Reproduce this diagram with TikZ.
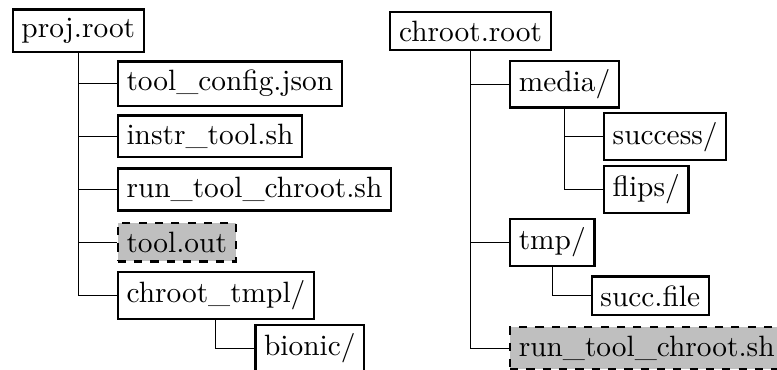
\documentclass[tikz,border=0pt]{standalone}
\begin{document}
\begin{tikzpicture}[
  x=0.3676pt, y=-0.3676pt,
  box/.style={draw, thick, fill=white, inner sep=3.2pt,
    font=\fontsize{10.8pt}{13pt}\selectfont},
  outbox/.style={box, dashed, fill=gray!50},
  kid/.style={anchor=west, xshift=14.12pt},
  link/.style={draw, line width=0.4pt}
]
\clip (0,0) rectangle (777,369);

% left tree
\node[box, anchor=west] (proj) at (11.7,30.8) {proj.root};
\node[box, kid] (cfg)   at (proj.south |- 0,83.5)  {tool\_config.json};
\node[box, kid] (instr) at (proj.south |- 0,136.4) {instr\_tool.sh};
\node[box, kid] (runl)  at (proj.south |- 0,189.5) {run\_tool\_chroot.sh};
\node[outbox, kid] (out) at (proj.south |- 0,242.4) {tool.out};
\node[box, kid] (tmpl)  at (proj.south |- 0,295.6) {chroot\_tmpl/};
\node[box, kid] (bionic) at (tmpl.south |- 0,348.3) {bionic/};

\foreach \c in {cfg,instr,runl,out,tmpl}
  \path[link] (proj.south) |- (\c.west);
\path[link] (tmpl.south) |- (bionic.west);

% right tree
\node[box, anchor=west] (croot) at (389.3,31) {chroot.root};
\node[box, kid] (media) at (croot.south |- 0,84.1)  {media/};
\node[box, kid] (succ)  at (media.south |- 0,136.7) {success/};
\node[box, kid] (flips) at (media.south |- 0,189.3) {flips/};
\node[box, kid] (tmp)   at (croot.south |- 0,242.4) {tmp/};
\node[box, kid] (sfile) at (tmp.south |- 0,295.8)   {succ.file};
\node[outbox, kid] (runr) at (croot.south |- 0,348.3) {run\_tool\_chroot.sh};

\foreach \c in {media,tmp,runr}
  \path[link] (croot.south) |- (\c.west);
\foreach \c in {succ,flips}
  \path[link] (media.south) |- (\c.west);
\path[link] (tmp.south) |- (sfile.west);
\end{tikzpicture}
\end{document}
